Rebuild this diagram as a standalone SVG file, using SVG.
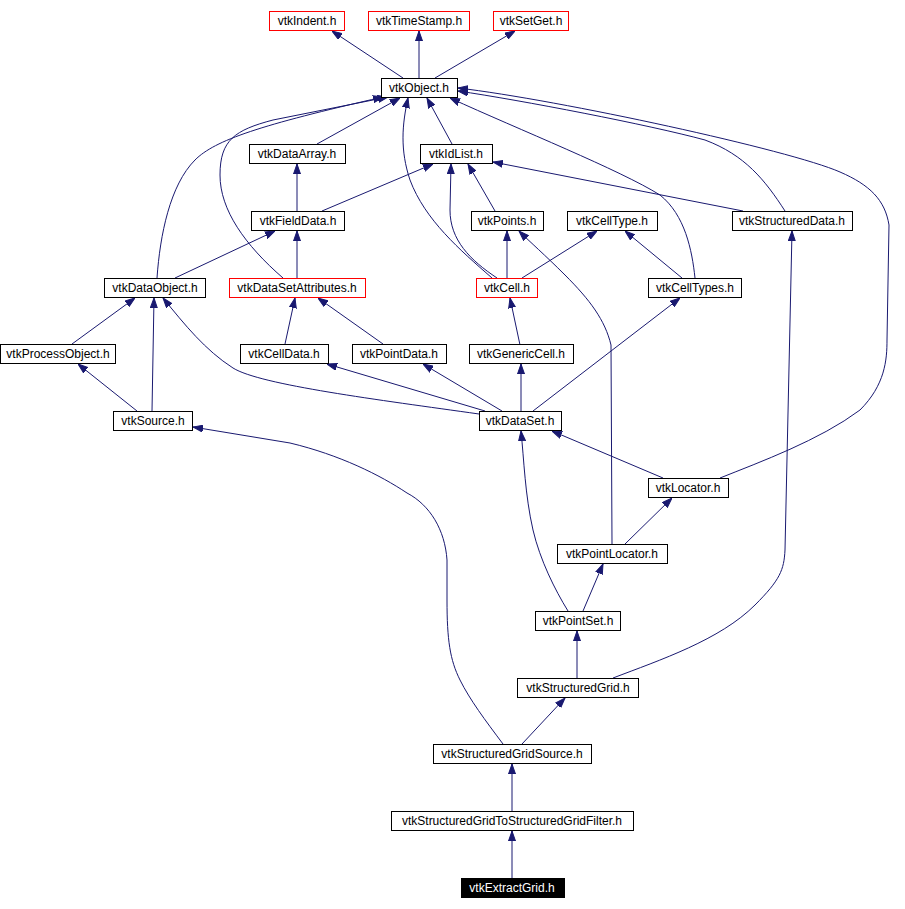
<svg xmlns="http://www.w3.org/2000/svg" width="905" height="909" viewBox="0 0 905 909">
<style>
.n rect{fill:#fff;stroke:#000;stroke-width:1}
.n.r rect{stroke:#f00}
.n.k rect{fill:#000}
.n text{font-family:"Liberation Sans",Arial,sans-serif;font-size:12px;text-anchor:middle;fill:#000}
.n.k text{fill:#fff}
.e path{fill:none;stroke:#191970;stroke-width:1;marker-end:url(#a)}
</style>
<defs>
<marker id="a" markerUnits="userSpaceOnUse" markerWidth="10" markerHeight="8" refX="10" refY="4" orient="auto">
<path d="M0,0.5 L10,4 L0,7.5 z" fill="#191970" stroke="#191970" stroke-width="1"/>
</marker>
</defs>
<rect width="905" height="909" fill="#fff"/>
<g id="edges" class="e">
<path d="M403,78 L332,31"/>
<path d="M419,78 L419,31"/>
<path d="M435,78 L515,31"/>
<path d="M317,144 L400,98"/>
<path d="M157,278 C160,235 170,185 195,160 C215,140 260,125 383,97"/>
<path d="M283,278 C245,245 220,210 220,175 C220,140 235,130 273,120 L388,97"/>
<path d="M297,211 L297,164"/>
<path d="M322,211 L433,164"/>
<path d="M175,278 L275,231"/>
<path d="M297,278 L297,231"/>
<path d="M452,144 L427,98"/>
<path d="M492,278 C460,250 425,220 410,180 C400,150 402,125 408,98"/>
<path d="M497,278 C470,260 450,240 450,210 L451,164"/>
<path d="M495,211 L468,164"/>
<path d="M743,211 L493,162"/>
<path d="M785,211 C765,180 745,155 705,140 C650,125 520,100 458,91"/>
<path d="M720,478 C760,462 820,440 860,410 C885,385 887,360 887,340 L889,225 C885,200 870,185 840,172 C790,150 560,100 458,88"/>
<path d="M695,278 C692,250 685,215 660,195 C620,170 520,130 450,98"/>
<path d="M507,278 L507,231"/>
<path d="M522,278 L597,231"/>
<path d="M682,278 L625,231"/>
<path d="M72,344 L135,298"/>
<path d="M152,411 L154,298"/>
<path d="M137,411 L78,364"/>
<path d="M479,414 C380,400 260,385 233,368 C205,350 185,325 163,298"/>
<path d="M285,344 L295,298"/>
<path d="M383,344 L318,298"/>
<path d="M485,411 L327,364"/>
<path d="M502,411 L423,364"/>
<path d="M520,345 L510,298"/>
<path d="M521,411 L521,364"/>
<path d="M533,411 L680,298"/>
<path d="M663,478 L552,431"/>
<path d="M612,544 L611,345 C605,320 590,300 565,275 C545,255 530,242 519,231"/>
<path d="M625,544 L672,498"/>
<path d="M568,611 C555,590 540,560 533,530 C525,495 524,460 521,431"/>
<path d="M583,611 L603,564"/>
<path d="M577,678 L577,631"/>
<path d="M613,678 C660,660 720,640 755,605 C780,580 784,570 785,550 L792,231"/>
<path d="M522,744 L565,698"/>
<path d="M503,744 C485,720 470,700 460,680 C450,660 447,640 447,600 L447,560 C445,530 430,505 407,493 C380,475 340,455 290,443 L193,427"/>
<path d="M512,812 L512,764"/>
<path d="M512,878 L512,831"/>
</g>
<g id="vtkIndent" class="n r"><rect x="269.5" y="11.5" width="75" height="19"/><text x="307" y="25">vtkIndent.h</text></g>
<g id="vtkTimeStamp" class="n r"><rect x="368.5" y="11.5" width="101" height="19"/><text x="419" y="25">vtkTimeStamp.h</text></g>
<g id="vtkSetGet" class="n r"><rect x="493.5" y="11.5" width="75" height="19"/><text x="531" y="25">vtkSetGet.h</text></g>
<g id="vtkObject" class="n"><rect x="381.5" y="78.5" width="76" height="19"/><text x="419" y="92">vtkObject.h</text></g>
<g id="vtkDataArray" class="n"><rect x="249.5" y="144.5" width="96" height="19"/><text x="297" y="158">vtkDataArray.h</text></g>
<g id="vtkIdList" class="n"><rect x="420.5" y="144.5" width="72" height="19"/><text x="456" y="158">vtkIdList.h</text></g>
<g id="vtkFieldData" class="n"><rect x="251.5" y="211.5" width="93" height="19"/><text x="298" y="225">vtkFieldData.h</text></g>
<g id="vtkPoints" class="n"><rect x="471.5" y="211.5" width="72" height="19"/><text x="507" y="225">vtkPoints.h</text></g>
<g id="vtkCellType" class="n"><rect x="567.5" y="211.5" width="90" height="19"/><text x="612" y="225">vtkCellType.h</text></g>
<g id="vtkStructuredData" class="n"><rect x="732.5" y="211.5" width="120" height="19"/><text x="792" y="225">vtkStructuredData.h</text></g>
<g id="vtkDataObject" class="n"><rect x="104.5" y="278.5" width="101" height="19"/><text x="155" y="292">vtkDataObject.h</text></g>
<g id="vtkDataSetAttributes" class="n r"><rect x="229.5" y="278.5" width="136" height="19"/><text x="297" y="292">vtkDataSetAttributes.h</text></g>
<g id="vtkCell" class="n r"><rect x="476.5" y="278.5" width="61" height="19"/><text x="507" y="292">vtkCell.h</text></g>
<g id="vtkCellTypes" class="n"><rect x="648.5" y="278.5" width="93" height="19"/><text x="695" y="292">vtkCellTypes.h</text></g>
<g id="vtkProcessObject" class="n"><rect x="0.5" y="344.5" width="115" height="19"/><text x="58" y="358">vtkProcessObject.h</text></g>
<g id="vtkCellData" class="n"><rect x="240.5" y="344.5" width="88" height="19"/><text x="284" y="358">vtkCellData.h</text></g>
<g id="vtkPointData" class="n"><rect x="352.5" y="344.5" width="94" height="19"/><text x="399" y="358">vtkPointData.h</text></g>
<g id="vtkGenericCell" class="n"><rect x="469.5" y="344.5" width="104" height="19"/><text x="521" y="358">vtkGenericCell.h</text></g>
<g id="vtkSource" class="n"><rect x="113.5" y="411.5" width="79" height="19"/><text x="153" y="425">vtkSource.h</text></g>
<g id="vtkDataSet" class="n"><rect x="479.5" y="411.5" width="82" height="19"/><text x="520" y="425">vtkDataSet.h</text></g>
<g id="vtkLocator" class="n"><rect x="648.5" y="478.5" width="80" height="19"/><text x="688" y="492">vtkLocator.h</text></g>
<g id="vtkPointLocator" class="n"><rect x="557.5" y="544.5" width="110" height="19"/><text x="612" y="558">vtkPointLocator.h</text></g>
<g id="vtkPointSet" class="n"><rect x="535.5" y="611.5" width="85" height="19"/><text x="578" y="625">vtkPointSet.h</text></g>
<g id="vtkStructuredGrid" class="n"><rect x="517.5" y="678.5" width="121" height="19"/><text x="578" y="692">vtkStructuredGrid.h</text></g>
<g id="vtkStructuredGridSource" class="n"><rect x="433.5" y="744.5" width="158" height="19"/><text x="512" y="758">vtkStructuredGridSource.h</text></g>
<g id="vtkStructuredGridToStructuredGridFilter" class="n"><rect x="391.5" y="811.5" width="242" height="19"/><text x="512" y="825">vtkStructuredGridToStructuredGridFilter.h</text></g>
<g id="vtkExtractGrid" class="n k"><rect x="461.5" y="878.5" width="103" height="19"/><text x="512" y="892">vtkExtractGrid.h</text></g>
</svg>
